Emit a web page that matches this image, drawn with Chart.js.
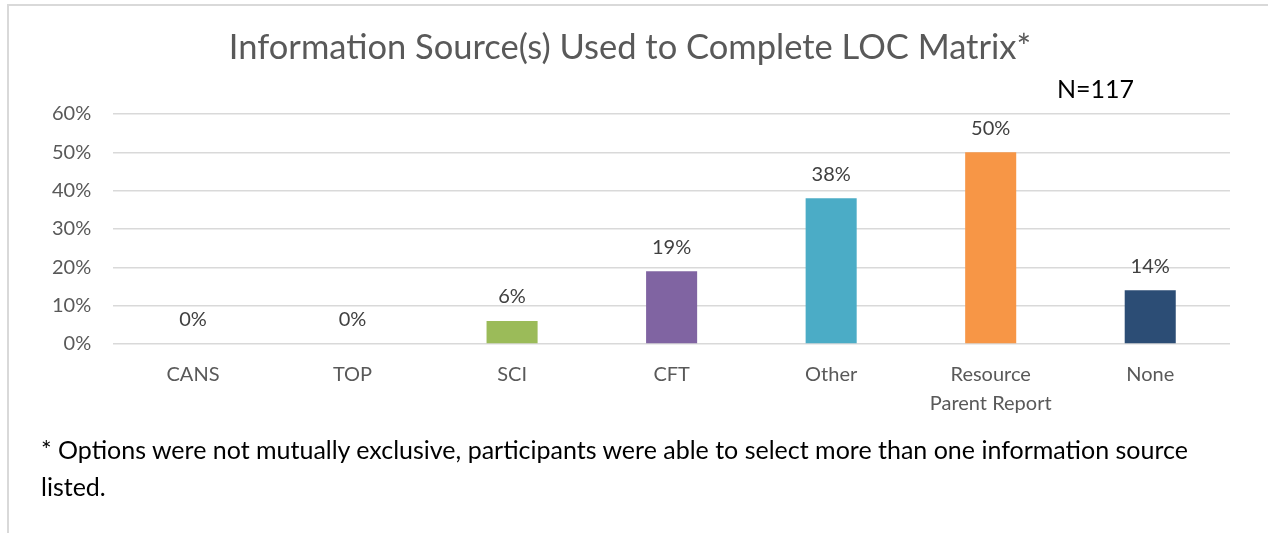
<!DOCTYPE html>
<html>
<head>
<meta charset="utf-8">
<script src="https://cdn.jsdelivr.net/npm/chart.js@4"></script>
<style>
  body { margin: 0; background: #fff; width: 1268px; height: 533px; overflow: hidden; position: relative; font-family: Lato, "Open Sans", sans-serif; }
  #frame { position: absolute; left: 7px; top: 4px; right: -2px; bottom: -2px; border-left: 2px solid #d9d9d9; border-top: 2px solid #d9d9d9; }
  #wrap { position: absolute; left: 0; top: 0; width: 1268px; height: 436px; }
  #nlabel { position: absolute; left: 1057px; top: 72px; font-size: 25px; line-height: 32px; color: #000; }
  #note { position: absolute; left: 41px; top: 431px; font-size: 25px; line-height: 37px; color: #000; width: 1170px; }
</style>
</head>
<body>
<div id="frame"></div>
<div id="wrap"><canvas id="locChart"></canvas></div>
<div id="nlabel">N=117</div>
<div id="note">* Options were not mutually exclusive, participants were able to select more than one information source listed.</div>
<script>
//DATA
const categories = ["CANS", "TOP", "SCI", "CFT", "Other", ["Resource", "Parent Report"], "None"];
const percents = [0, 0, 6, 19, 38, 50, 14];
const barColors = ["#4f81bd", "#c0504d", "#9bbb59", "#8064a2", "#4bacc6", "#f79646", "#2c4d75"];
const yTicks = [0, 10, 20, 30, 40, 50, 60];

// labels above the bars
const valueLabels = {
  id: "valueLabels",
  afterDatasetsDraw(chart) {
    const ctx = chart.ctx;
    const meta = chart.getDatasetMeta(0);
    ctx.save();
    ctx.font = "20px Lato, sans-serif";
    ctx.fillStyle = "#404040";
    ctx.textAlign = "center";
    ctx.textBaseline = "middle";
    meta.data.forEach((bar, i) => {
      ctx.fillText(percents[i] + "%", bar.x, bar.y - 24);
    });
    ctx.restore();
  },
};

const locCtx = document.getElementById("locChart").getContext("2d");

new Chart(locCtx, {
  type: "bar",
  data: {
    labels: categories,
    datasets: [
      {
        data: percents,
        backgroundColor: barColors,
        barPercentage: 0.32,
        categoryPercentage: 1,
      },
    ],
  },
  options: {
    responsive: true,
    maintainAspectRatio: false,
    animation: false,
    layout: { padding: { left: 30, right: 38, top: 0, bottom: 2 } },
    plugins: {
      legend: { display: false },
      tooltip: { enabled: false },
      title: {
        display: true,
        text: "Information Source(s) Used to Complete LOC Matrix*",
        color: "#595959",
        font: { family: "Lato, sans-serif", size: 34.5, weight: "normal" },
        padding: { top: 27, bottom: 45.6 },
      },
    },
    scales: {
      y: {
        min: yTicks[0],
        max: yTicks[yTicks.length - 1],
        afterBuildTicks: (axis) => {
          axis.ticks = yTicks.map((v) => ({ value: v }));
        },
        ticks: {
          color: "#595959",
          font: { family: "Lato, sans-serif", size: 20 },
          padding: 22,
          callback: (v) => v + "%",
        },
        grid: { color: "#d9d9d9", lineWidth: 1.5, drawTicks: false },
        border: { display: false },
      },
      x: {
        ticks: {
          color: "#595959",
          font: { family: "Lato, sans-serif", size: 20, lineHeight: 1.45 },
          padding: 16,
        },
        grid: { display: false, drawTicks: false },
        border: { display: false },
      },
    },
  },
  plugins: [valueLabels],
});
</script>
</body>
</html>
